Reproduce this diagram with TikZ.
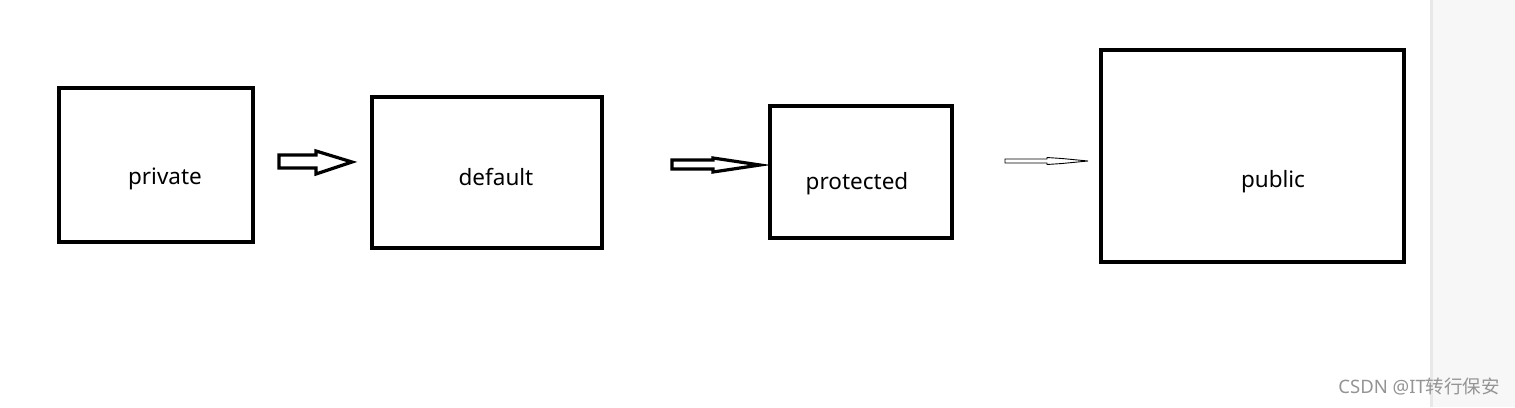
\documentclass[tikz,border=0pt]{standalone}
\usepackage{fontspec}
\setmainfont{Noto Sans}
\newfontfamily\cjkfont{Noto Sans CJK SC}
\begin{document}
\begin{tikzpicture}[x=1pt,y=-1pt,
  box/.style={draw=black,line width=4pt,fill=none},
  lbl/.style={font=\fontsize{22.5}{26}\selectfont,inner sep=0pt},
  blockarrow/.style={draw=black,fill=white,line width=3.2pt,line join=miter},
  thinarrow/.style={draw=black,fill=white,line width=0.9pt,line join=miter}]
\useasboundingbox (0,0) rectangle (1515,407);
\fill[white] (0,0) rectangle (1515,407);
% right strip
\fill[black!3] (1430,0) rectangle (1515,407);
\fill[black!9] (1430,0) rectangle (1433,407);
% boxes
\draw[box] (59,88) rectangle (253,242);
\draw[box] (372,97) rectangle (602,248);
\draw[box] (770,106) rectangle (952,238);
\draw[box] (1101,50) rectangle (1404,262);
\node[lbl] (private) at (165,179) {private};
\node[lbl] (default) at (496,177) {default};
\node[lbl] (protected) at (857,184) {protected};
\node[lbl] (public) at (1273,182) {public};
% arrows
\draw[blockarrow] (279,155) -- (316,155) -- (316,151) -- (352,162) -- (316,174) -- (316,168) -- (279,168) -- cycle;
\draw[blockarrow] (672,160) -- (713,160) -- (713,158) -- (760,165) -- (713,172) -- (713,169) -- (672,169) -- cycle;
\draw[thinarrow] (1005,159) -- (1047,159) -- (1047,157.5) -- (1062,158.5) -- (1088,161) -- (1062,163.5) -- (1047,164.5) -- (1047,163) -- (1005,163) -- cycle;
% watermark
\node[inner sep=0pt,text=black!42,font=\fontsize{18.5}{20}\selectfont,anchor=east] (wm) at (1500,387) {CSDN @IT{\cjkfont 转行保安}};
\end{tikzpicture}
\end{document}
